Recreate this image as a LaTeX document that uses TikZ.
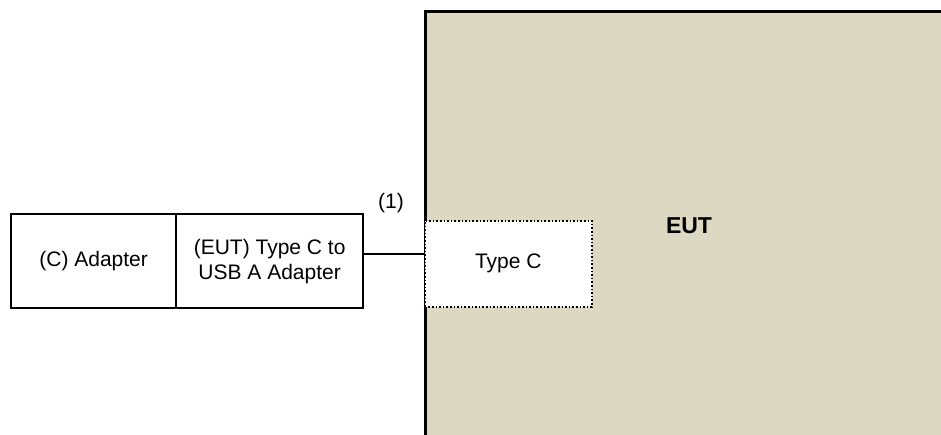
\documentclass[tikz,border=0pt]{standalone}
\usepackage{fontspec}
\setmainfont{Liberation Sans}
\definecolor{tan}{HTML}{DDD8C2}
\begin{document}
\begin{tikzpicture}[x=1pt,y=-1pt,
  box/.style={draw=black,line width=2.3pt,fill=white,minimum width=#1,minimum height=94pt,inner sep=0pt,align=center,font=\fontsize{21}{25}\selectfont},
  lbl/.style={font=\fontsize{21}{25}\selectfont,inner sep=0pt}]
\useasboundingbox (0,0) rectangle (941,434);
\clip (0,0) rectangle (941,434);
\node[draw=black,line width=2.8pt,fill=tan,minimum width=540pt,minimum height=450pt,anchor=north west,inner sep=0pt] (eut) at (424,10) {};
\node[lbl,font=\fontsize{23}{27}\selectfont\bfseries] (euttxt) at (689,226) {EUT};
\node[draw=black,dotted,line width=1.6pt,fill=white,minimum width=167pt,minimum height=86pt,anchor=north west,inner sep=0pt,font=\fontsize{21}{25}\selectfont] (typec) at (424,220) {Type C};
\node[box=165pt,anchor=north west] (adapter) at (10,213) {(C) Adapter};
\node[box=187pt,anchor=north west] (usb) at (175,213) {(EUT) Type C to\\USB A Adapter};
\draw[line width=1.5pt] (usb.east |- 0,254) -- (typec.west |- 0,254);
\node[lbl] (one) at (391,203) {(1)};
\end{tikzpicture}
\end{document}
